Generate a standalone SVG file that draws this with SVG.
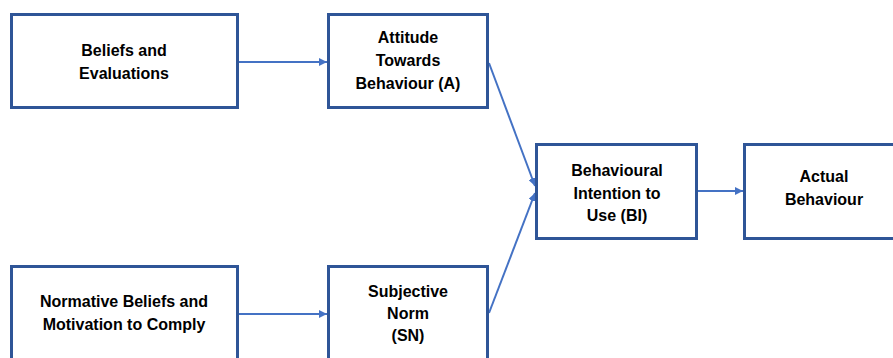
<svg xmlns="http://www.w3.org/2000/svg" width="893" height="358" viewBox="0 0 893 358">
  <style>
    .box { fill: #ffffff; stroke: #2F5597; stroke-width: 3; }
    .lbl { font-family: "Liberation Sans", Arial, sans-serif; font-weight: bold; font-size: 16px; fill: #000000; text-anchor: middle; }
    .edge { fill: none; stroke: #4472C4; stroke-width: 2; marker-end: url(#head); }
  </style>
  <defs>
    <marker id="head" viewBox="0 0 8 8" refX="8" refY="4" markerWidth="8" markerHeight="8" markerUnits="userSpaceOnUse" orient="auto">
      <path d="M0,0 L8,4 L0,8 z" fill="#4472C4"/>
    </marker>
  </defs>
  <rect width="893" height="358" fill="#ffffff"/>

  <!-- connectors -->
  <g id="connectors">
    <line class="edge" x1="239" y1="62" x2="327" y2="62"/>
    <line class="edge" x1="489" y1="63" x2="535" y2="186"/>
    <line class="edge" x1="239" y1="314" x2="327" y2="314"/>
    <line class="edge" x1="489" y1="313" x2="535" y2="193"/>
    <line class="edge" x1="698" y1="191" x2="743" y2="191"/>
  </g>

  <g id="beliefs">
    <rect class="box" x="11.5" y="14.5" width="226" height="93"/>
    <text class="lbl" x="124" y="56">Beliefs and</text>
    <text class="lbl" x="124" y="79">Evaluations</text>
  </g>

  <g id="attitude">
    <rect class="box" x="328.5" y="14.5" width="159" height="93"/>
    <text class="lbl" x="408" y="43">Attitude</text>
    <text class="lbl" x="408" y="66">Towards</text>
    <text class="lbl" x="408" y="89">Behaviour (A)</text>
  </g>

  <g id="intention">
    <rect class="box" x="536.5" y="144.5" width="160" height="94"/>
    <text class="lbl" x="617" y="176">Behavioural</text>
    <text class="lbl" x="617" y="199">Intention to</text>
    <text class="lbl" x="617" y="221">Use (BI)</text>
  </g>

  <g id="actual">
    <rect class="box" x="744.5" y="144.5" width="160" height="94"/>
    <text class="lbl" x="824" y="182">Actual</text>
    <text class="lbl" x="824" y="205">Behaviour</text>
  </g>

  <g id="normative">
    <rect class="box" x="11.5" y="266.5" width="226" height="110"/>
    <text class="lbl" x="124" y="307">Normative Beliefs and</text>
    <text class="lbl" x="124" y="330">Motivation to Comply</text>
  </g>

  <g id="subjective">
    <rect class="box" x="328.5" y="266.5" width="159" height="110"/>
    <text class="lbl" x="408" y="297">Subjective</text>
    <text class="lbl" x="408" y="319">Norm</text>
    <text class="lbl" x="408" y="341">(SN)</text>
  </g>
</svg>
